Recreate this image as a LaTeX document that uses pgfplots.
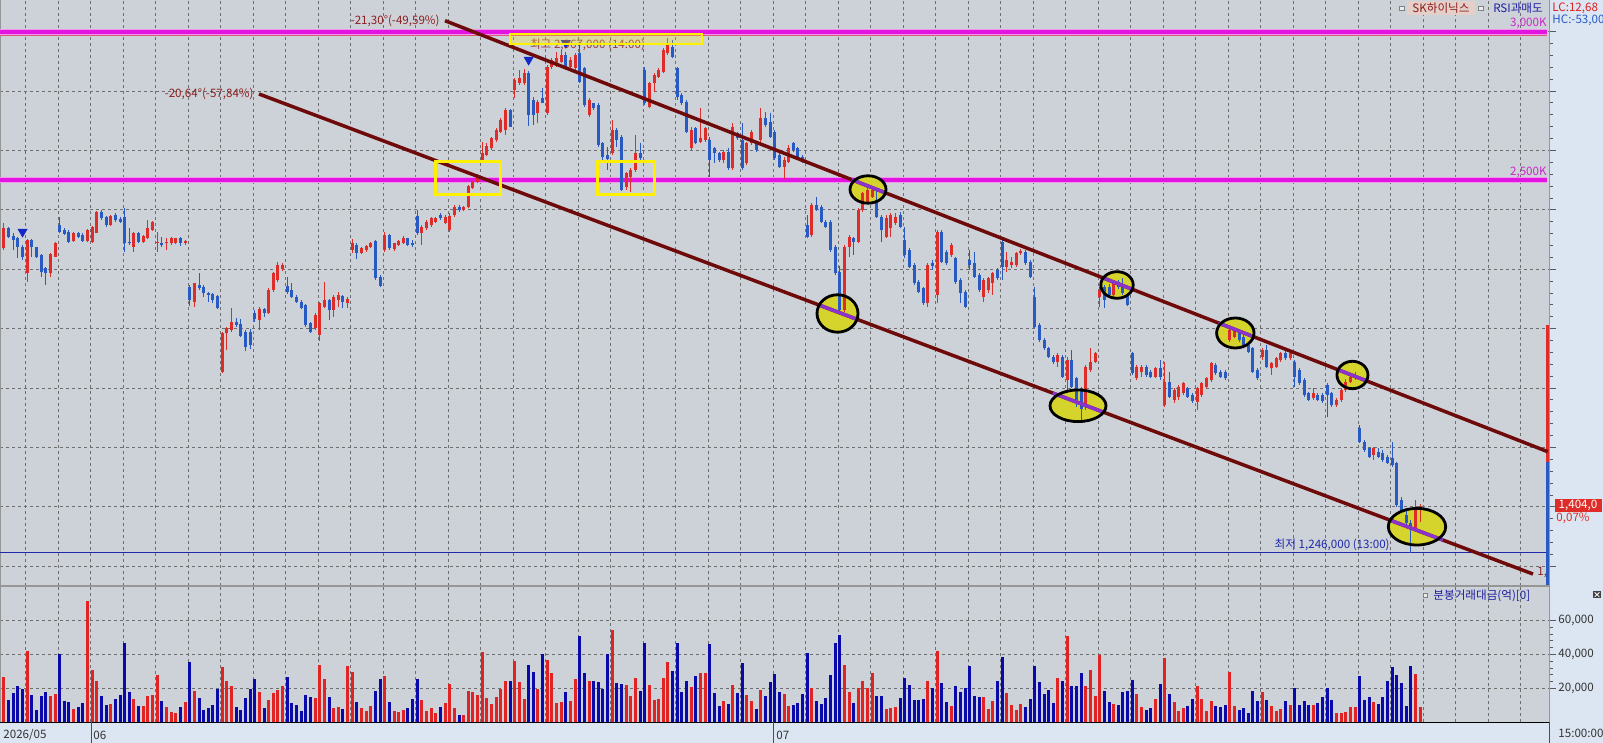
\documentclass[border=0pt]{standalone}
\usepackage{fontspec}
\setmainfont{Noto Sans CJK KR}
\usepackage{pgfplots}
\usepackage{pgfplotstable}
\pgfplotsset{compat=1.18}
\definecolor{plotbg}{RGB}{205,210,216}
\definecolor{stripbg}{RGB}{220,230,242}
\definecolor{cred}{RGB}{222,45,40}
\definecolor{cblue}{RGB}{40,90,195}
\definecolor{vred}{RGB}{225,35,35}
\definecolor{vblue}{RGB}{10,10,170}
\definecolor{chan}{RGB}{110,10,10}
\definecolor{mag}{RGB}{225,20,225}
\definecolor{magpink}{RGB}{240,150,235}
\definecolor{magtxt}{RGB}{200,40,200}
\definecolor{gridc}{RGB}{110,110,110}
\definecolor{framec}{RGB}{150,150,150}
\definecolor{tickc}{RGB}{90,90,90}
\definecolor{ellfill}{RGB}{212,212,45}
\definecolor{purp}{RGB}{140,50,205}
\definecolor{lowblue}{RGB}{30,40,170}
\definecolor{txtred}{RGB}{140,30,30}
\definecolor{yel}{RGB}{255,240,0}
\definecolor{skbg}{RGB}{228,208,200}
\definecolor{navy}{RGB}{30,30,160}
\definecolor{arrowblue}{RGB}{20,40,200}
\newcommand{\ellfillcmd}[4]{%
  \fill[ellfill] (axis cs:#1,#2) ellipse [x radius=#3pt, y radius=#4pt];}
\newcommand{\myell}[8]{%
  \draw[purp, line width=1.75pt] (axis cs:#5,#6) -- (axis cs:#7,#8);
  \draw[black, line width=1.4pt] (axis cs:#1,#2) ellipse [x radius=#3pt, y radius=#4pt];}
\pgfplotsset{candle/.style 2 args={draw=none, mark=none, mark size=0pt, forget plot,
  error bars/.cd, y dir=plus, y explicit, error mark=none,
  error bar style={draw=#1, line width=#2, solid}, /pgfplots/.cd}}
\pgfplotstableread{
i o h l c v
0 2270 2355 2265 2338 26.5
1 2338 2343 2304 2310 13.3
2 2312 2321 2265 2299 17.6
3 2305 2310 2237 2276 21.2
4 2276 2282 2231 2240 19.8
5 2187 2301 2158 2299 42.0
6 2299 2301 2243 2276 16.2
7 2274 2276 2237 2240 7.3
8 2248 2252 2175 2192 15.6
9 2203 2209 2147 2187 18.2
10 2189 2254 2175 2252 15.6
11 2243 2293 2240 2290 16.8
12 2349 2377 2321 2327 40.0
13 2332 2338 2316 2319 12.7
14 2327 2332 2287 2293 12.3
15 2296 2327 2293 2321 7.9
16 2321 2327 2304 2310 9.1
17 2315 2321 2293 2296 11.7
18 2296 2335 2293 2332 71.7
19 2293 2346 2287 2343 31.1
20 2323 2396 2321 2394 24.2
21 2394 2400 2366 2372 15.6
22 2377 2380 2344 2349 10.3
23 2349 2383 2346 2380 11.1
24 2383 2389 2360 2366 13.9
25 2368 2377 2357 2360 16.2
26 2377 2405 2259 2287 46.5
27 2293 2338 2282 2287 18.0
28 2276 2327 2259 2323 13.9
29 2323 2327 2287 2293 9.9
30 2293 2315 2287 2312 9.7
31 2304 2366 2301 2338 15.6
32 2332 2363 2330 2360 16.2
33 2287 2327 2259 2293 28.1
34 2290 2310 2276 2281 12.7
35 2287 2304 2265 2293 9.1
36 2287 2310 2282 2304 6.3
37 2290 2307 2285 2304 5.5
38 2304 2310 2278 2287 9.1
39 2290 2299 2282 2296 12.3
40 2141 2147 2077 2097 35.4
41 2091 2155 2074 2153 18.6
42 2147 2187 2130 2136 14.3
43 2141 2147 2108 2119 7.3
44 2119 2125 2091 2113 8.7
45 2116 2119 2088 2097 10.3
46 2110 2113 2065 2069 19.8
47 1855 1990 1850 1985 32.5
48 1985 2007 1928 2002 24.2
49 1996 2071 1990 2024 21.2
50 2024 2035 2007 2013 9.3
51 2016 2032 1972 1976 7.3
52 1988 1995 1925 1940 14.3
53 1990 2000 1930 1945 19.8
54 2052 2063 2023 2031 25.7
55 2029 2074 1995 2065 18.2
56 2065 2068 2040 2052 8.7
57 2052 2136 2050 2130 13.3
58 2130 2192 2125 2186 17.6
59 2164 2225 2158 2214 19.2
60 2200 2220 2195 2215 21.2
61 2145 2175 2118 2122 26.5
62 2130 2153 2102 2108 11.7
63 2108 2113 2088 2091 10.3
64 2091 2096 2065 2068 6.7
65 2080 2082 2007 2012 16.2
66 2018 2024 1984 1990 15.2
67 2001 2052 1996 2046 14.5
68 1980 2090 1960 2085 33.7
69 2074 2158 2068 2096 25.7
70 2096 2099 2029 2063 15.0
71 2063 2113 2040 2108 8.3
72 2096 2125 2074 2113 9.1
73 2110 2113 2068 2091 7.9
74 2085 2108 2068 2099 33.1
75 2265 2301 2256 2287 29.5
76 2282 2287 2234 2254 12.3
77 2256 2276 2251 2273 8.7
78 2265 2282 2259 2278 6.9
79 2274 2293 2270 2290 9.7
80 2296 2298 2164 2170 18.6
81 2175 2181 2142 2144 25.7
82 2265 2327 2259 2315 27.5
83 2315 2319 2265 2270 12.3
84 2267 2290 2263 2287 6.7
85 2282 2300 2278 2296 6.3
86 2290 2312 2285 2307 7.5
87 2304 2307 2278 2282 8.7
88 2287 2298 2276 2282 13.9
89 2380 2400 2316 2323 25.7
90 2321 2349 2282 2343 13.3
91 2338 2366 2332 2360 6.9
92 2349 2377 2343 2371 8.7
93 2360 2375 2357 2371 5.5
94 2382 2388 2366 2371 9.1
95 2357 2383 2352 2377 11.5
96 2332 2388 2327 2380 22.8
97 2383 2417 2377 2411 8.7
98 2411 2417 2394 2400 4.4
99 2400 2414 2395 2411 4.4
100 2411 2483 2408 2480 18.6
101 2472 2498 2469 2495 17.8
102 2495 2520 2490 2512 16.2
103 2565 2627 2559 2593 41.4
104 2585 2624 2580 2616 14.3
105 2607 2647 2602 2641 11.1
106 2635 2675 2630 2669 15.0
107 2663 2708 2658 2703 19.8
108 2669 2742 2652 2736 24.6
109 2736 2739 2680 2680 24.6
110 2804 2843 2776 2837 36.0
111 2826 2871 2820 2843 23.6
112 2826 2876 2820 2860 13.9
113 2860 2866 2682 2720 34.1
114 2770 2781 2686 2720 29.7
115 2725 2770 2691 2764 19.8
116 2776 2809 2759 2761 40.0
117 2725 2888 2720 2882 37.0
118 2882 2910 2876 2905 29.3
119 2888 2933 2882 2910 11.7
120 2899 2938 2893 2922 12.3
121 2922 2933 2877 2882 18.2
122 2882 2916 2877 2905 12.7
123 2877 2927 2871 2922 25.7
124 2927 2965 2826 2832 50.9
125 2877 2882 2748 2753 29.1
126 2720 2776 2714 2770 24.2
127 2759 2761 2736 2742 24.6
128 2753 2759 2613 2619 23.8
129 2624 2630 2568 2579 19.8
130 2585 2613 2534 2573 40.0
131 2591 2703 2585 2669 54.5
132 2669 2675 2613 2635 23.2
133 2647 2652 2465 2467 22.8
134 2478 2529 2467 2523 22.2
135 2512 2540 2461 2534 15.8
136 2534 2652 2529 2591 26.3
137 2591 2624 2568 2574 18.6
138 2871 2882 2753 2759 46.5
139 2748 2832 2742 2826 22.2
140 2826 2860 2798 2854 13.3
141 2849 2877 2843 2871 13.9
142 2865 2944 2860 2938 26.3
143 2927 2978 2921 2955 35.4
144 2950 2972 2910 2916 30.5
145 2877 2882 2770 2781 46.5
146 2787 2792 2753 2759 18.2
147 2764 2770 2658 2663 24.6
148 2607 2680 2602 2669 20.6
149 2675 2680 2621 2624 27.5
150 2630 2742 2624 2641 29.3
151 2636 2680 2630 2675 28.9
152 2635 2647 2512 2568 45.9
153 2607 2613 2557 2591 17.4
154 2591 2596 2562 2568 9.7
155 2568 2602 2557 2596 12.7
156 2596 2607 2534 2540 10.9
157 2540 2691 2534 2680 22.2
158 2658 2663 2635 2641 17.6
159 2635 2691 2534 2540 34.7
160 2557 2630 2551 2624 16.2
161 2624 2669 2618 2663 12.9
162 2624 2630 2596 2602 7.9
163 2635 2742 2630 2708 19.4
164 2708 2731 2680 2686 15.8
165 2697 2725 2641 2646 23.8
166 2663 2669 2568 2574 28.7
167 2585 2591 2540 2545 18.0
168 2545 2579 2503 2568 16.8
169 2562 2618 2557 2607 9.7
170 2624 2630 2596 2602 10.3
171 2607 2613 2568 2574 11.7
172 2579 2585 2559 2562 16.8
173 2349 2383 2304 2310 40.8
174 2315 2422 2310 2416 20.4
175 2416 2445 2397 2400 12.7
176 2410 2416 2355 2360 10.9
177 2360 2366 2338 2344 14.3
178 2360 2366 2259 2265 27.7
179 2276 2282 2181 2186 46.5
180 2192 2210 2052 2063 51.3
181 2063 2282 2057 2276 33.7
182 2276 2315 2243 2310 17.8
183 2305 2310 2248 2293 11.5
184 2293 2405 2287 2400 20.4
185 2400 2461 2394 2456 24.6
186 2427 2478 2422 2467 20.0
187 2445 2480 2440 2467 28.9
188 2434 2467 2374 2377 15.6
189 2377 2383 2293 2332 15.6
190 2310 2383 2304 2371 7.9
191 2338 2388 2310 2383 8.5
192 2355 2388 2349 2377 9.1
193 2383 2394 2338 2344 14.3
194 2300 2344 2237 2248 26.1
195 2265 2270 2203 2209 21.8
196 2214 2220 2147 2153 13.3
197 2158 2164 2119 2125 13.3
198 2136 2141 2080 2085 13.9
199 2085 2220 2074 2214 24.2
200 2220 2231 2198 2212 20.4
201 2113 2332 2085 2327 42.0
202 2327 2332 2220 2226 23.4
203 2259 2265 2214 2220 11.9
204 2248 2287 2243 2282 9.7
205 2237 2243 2152 2158 21.6
206 2164 2170 2085 2119 18.0
207 2125 2130 2068 2074 20.2
208 2231 2265 2198 2214 33.1
209 2220 2259 2170 2175 15.6
210 2181 2186 2125 2130 14.9
211 2108 2170 2091 2164 15.0
212 2130 2175 2119 2170 7.9
213 2153 2192 2113 2186 12.7
214 2198 2203 2164 2170 24.6
215 2293 2299 2164 2209 38.8
216 2209 2259 2192 2231 17.6
217 2214 2240 2203 2226 10.3
218 2214 2259 2209 2254 7.3
219 2254 2268 2248 2262 10.9
220 2259 2265 2214 2220 9.1
221 2226 2231 2170 2175 13.9
222 2108 2141 2001 2007 33.5
223 2012 2018 1956 1962 24.0
224 1962 1968 1928 1934 16.8
225 1934 1939 1900 1906 19.2
226 1906 1911 1881 1889 11.5
227 1889 1917 1872 1911 26.3
228 1906 1911 1833 1839 24.6
229 1827 1906 1782 1895 50.9
230 1895 1928 1799 1805 21.6
231 1833 1838 1737 1760 21.6
232 1790 1805 1693 1730 29.3
233 1737 1878 1726 1872 21.6
234 1861 1934 1855 1889 31.1
235 1889 1923 1883 1917 15.8
236 2108 2141 2074 2130 39.6
237 2141 2147 2069 2097 18.6
238 2141 2152 2110 2113 12.1
239 2113 2158 2108 2153 10.9
240 2158 2164 2135 2141 10.3
241 2147 2170 2113 2119 18.0
242 2113 2119 2075 2080 18.6
243 1917 1923 1844 1850 25.1
244 1833 1878 1827 1872 16.8
245 1855 1878 1838 1872 9.1
246 1872 1878 1838 1844 7.5
247 1855 1860 1833 1838 8.5
248 1838 1872 1833 1866 13.9
249 1866 1895 1827 1838 22.8
250 1743 1889 1735 1822 38.2
251 1822 1855 1766 1771 16.8
252 1760 1799 1749 1794 12.1
253 1771 1811 1760 1805 6.7
254 1782 1822 1777 1816 8.5
255 1799 1805 1766 1771 9.7
256 1777 1782 1749 1755 13.9
257 1754 1805 1726 1799 21.6
258 1777 1822 1771 1816 13.9
259 1805 1838 1799 1833 6.7
260 1827 1889 1822 1883 12.7
261 1878 1883 1844 1850 9.7
262 1855 1861 1833 1838 9.1
263 1855 1861 1827 1833 10.3
264 1962 2001 1956 1996 29.9
265 1973 2001 1968 1996 9.7
266 1984 1990 1956 1962 7.3
267 1973 1979 1939 1945 8.5
268 1945 1951 1917 1922 5.5
269 1934 1939 1850 1855 18.6
270 1861 1866 1827 1833 12.7
271 1906 1934 1895 1928 18.0
272 1928 1945 1866 1872 13.3
273 1866 1889 1844 1883 9.7
274 1872 1906 1866 1900 6.7
275 1895 1923 1889 1917 7.9
276 1917 1928 1895 1900 12.7
277 1900 1923 1895 1917 10.3
278 1889 1895 1805 1838 20.4
279 1861 1866 1810 1816 10.3
280 1827 1833 1771 1777 12.7
281 1782 1788 1755 1760 10.3
282 1766 1799 1760 1782 10.3
283 1777 1782 1755 1760 11.5
284 1777 1782 1749 1755 15.0
285 1810 1816 1704 1777 20.4
286 1782 1788 1737 1743 13.3
287 1743 1766 1737 1760 5.5
288 1760 1799 1754 1794 5.5
289 1794 1830 1788 1822 6.1
290 1822 1850 1816 1838 9.1
291 1833 1855 1827 1844 9.1
292 1665 1676 1614 1620 27.5
293 1620 1625 1586 1592 13.3
294 1597 1603 1564 1569 15.0
295 1575 1603 1558 1597 12.1
296 1586 1597 1564 1569 10.9
297 1580 1592 1552 1558 15.0
298 1567 1575 1545 1549 24.6
299 1563 1620 1535 1541 32.9
300 1547 1552 1401 1406 27.7
301 1423 1434 1378 1384 23.4
302 1373 1395 1333 1345 9.7
303 1345 1356 1246 1333 33.5
304 1328 1423 1322 1395 28.7
305 1395 1410 1350 1404 9.1
}\candles
\begin{document}
\begin{tikzpicture}[font=\fontsize{5.8}{6.5}\selectfont]
\useasboundingbox (0pt,0pt) rectangle (801.5pt,371.5pt);
\fill[stripbg] (0pt,0pt) rectangle (801.5pt,371.5pt);
\begin{scope}
\clip (0pt,0pt) rectangle (801.5pt,371.5pt);
% ---------------- price panel
\begin{axis}[
  at={(0pt,78.5pt)}, anchor=south west, scale only axis,
  width=774.5pt, height=293pt,
  xmin=-0.86, xmax=332.76, ymin=1133.7, ymax=3106.7,
  axis background/.style={fill=plotbg},
  axis line style={draw=framec, line width=0.5pt},
  xtick={4.67,11.67,...,327}, xticklabels={}, xmajorticks=false,
  ytick={1200,1400,...,3000}, yticklabels={}, minor y tick num=4,
  ytick pos=right, tick align=outside,
  major tick length=3.5pt, minor tick length=2pt,
  tick style={draw=tickc, line width=0.5pt},
  grid=major,
  major grid style={draw=gridc, line width=0.45pt, dash pattern=on 1.5pt off 1.5pt},
]
\draw[lowblue, line width=0.5pt] (axis cs:-0.86,1246) -- (axis cs:332.76,1246);
% horizontal magenta levels
\draw[magpink, line width=3pt] (axis cs:-0.86,3000) -- (axis cs:332.35,3000);
\draw[mag, line width=2pt] (axis cs:-0.86,3000) -- (axis cs:332.35,3000);
\draw[color={rgb,255:red,215;green,90;blue,120}, line width=0.6pt] (axis cs:-0.86,2987) -- (axis cs:332.35,2987);
\draw[magpink, line width=3pt] (axis cs:-0.86,2500) -- (axis cs:332.35,2500);
\draw[mag, line width=2pt] (axis cs:-0.86,2500) -- (axis cs:332.35,2500);
% ellipse fills (under the candles)
\ellfillcmd{186.09}{2468.7}{9}{6.85}
\ellfillcmd{179.52}{2051.2}{10.25}{9.35}
\ellfillcmd{239.72}{2147.1}{8.1}{6.65}
\ellfillcmd{231.32}{1740.4}{14}{7.9}
\ellfillcmd{265.2}{1985.5}{9.35}{7.5}
\ellfillcmd{290.43}{1844.1}{7.75}{6.85}
\ellfillcmd{304.33}{1333.3}{14.35}{9.15}
% up candles
\addplot[restrict expr to domain={\thisrow{c}-\thisrow{o}}{0:100000}, candle={cred}{0.5pt}]
  table[x=i, y=l, y error plus expr={\thisrow{h}-\thisrow{l}}] {\candles};
\addplot[restrict expr to domain={\thisrow{c}-\thisrow{o}}{0:100000}, candle={cred}{1.5pt}]
  table[x=i, y=o, y error plus expr={max(\thisrow{c}-\thisrow{o},3)}] {\candles};
% down candles
\addplot[restrict expr to domain={\thisrow{c}-\thisrow{o}}{-100000:-0.001}, candle={cblue}{0.5pt}]
  table[x=i, y=l, y error plus expr={\thisrow{h}-\thisrow{l}}] {\candles};
\addplot[restrict expr to domain={\thisrow{c}-\thisrow{o}}{-100000:-0.001}, candle={cblue}{1.5pt}]
  table[x=i, y=c, y error plus expr={max(\thisrow{o}-\thisrow{c},3)}] {\candles};
% right edge range bar
\addplot[cred, line width=1.5pt, forget plot] coordinates {(332.45,2012.5) (332.45,1551.5)};
\addplot[cblue, line width=1.5pt, forget plot] coordinates {(332.45,1551.5) (332.45,1137)};
% channel lines
\draw[chan, line width=1.75pt] (axis cs:94.98,3037) -- (axis cs:332.48,1585.9);
\draw[chan, line width=1.75pt] (axis cs:54.92,2790.2) -- (axis cs:329.31,1174);
% yellow boxes
\draw[yel, line width=1.5pt] (axis cs:93.04,2561.3) rectangle (axis cs:107.04,2450.2);
\draw[yel, line width=1.5pt] (axis cs:127.93,2561.3) rectangle (axis cs:140.21,2450.2);
% ellipse segments and borders
\myell{186.09}{2468.7}{9}{6.85}{182.6}{2501.6}{189.58}{2459.0}
\myell{179.52}{2051.2}{10.25}{9.35}{175.55}{2079.7}{183.49}{2032.9}
\myell{239.72}{2147.1}{8.1}{6.65}{236.58}{2171.8}{242.86}{2133.5}
\myell{231.32}{1740.4}{14}{7.9}{225.89}{1783.2}{236.75}{1719.2}
\myell{265.2}{1985.5}{9.35}{7.5}{261.58}{2019.1}{268.82}{1974.8}
\myell{290.43}{1844.1}{7.75}{6.85}{287.43}{1861.1}{293.43}{1824.5}
\myell{304.33}{1333.3}{14.35}{9.15}{298.77}{1353.9}{309.89}{1288.4}
% signal arrows
\addplot[only marks, mark=triangle*, mark size=2.5pt, forget plot,
  mark options={rotate=180, fill=arrowblue, draw=arrowblue}]
  coordinates {(4,2326) (113,2905) (121,2962)};
\end{axis}
% ---------------- volume panel
\begin{axis}[
  at={(0pt,10.25pt)}, anchor=south west, scale only axis,
  width=774.5pt, height=67.75pt,
  xmin=-0.86, xmax=332.76, ymin=0, ymax=79.7,
  axis background/.style={fill=plotbg},
  axis line style={draw=framec, line width=0.5pt},
  xtick={4.67,11.67,...,327}, xticklabels={}, xmajorticks=false,
  ytick={20,40,60}, yticklabels={}, minor y tick num=4,
  ytick pos=right, tick align=outside,
  major tick length=3.5pt, minor tick length=2pt,
  tick style={draw=tickc, line width=0.5pt},
  grid=major,
  major grid style={draw=gridc, line width=0.45pt, dash pattern=on 1.5pt off 1.5pt},
]
\addplot[ycomb, draw=vred, line width=1.5pt, mark=none,
  restrict expr to domain={\thisrow{c}-\thisrow{o}}{0:100000}]
  table[x=i, y=v] {\candles};
\addplot[ycomb, draw=vblue, line width=1.5pt, mark=none,
  restrict expr to domain={\thisrow{c}-\thisrow{o}}{-100000:-0.001}]
  table[x=i, y=v] {\candles};
\draw[black, line width=0.8pt] (rel axis cs:0,0) -- (rel axis cs:1,0);
\end{axis}
% ---------------- texts
\node[anchor=east, text=txtred, inner sep=0pt] at (220pt,361.15pt) {-21,30°(-49,59\%)};
\node[anchor=east, text=txtred, inner sep=0pt] at (127pt,324.5pt) {-20,64°(-57,84\%)};
\node[text=txtred, opacity=0.85, inner sep=0pt] at (293.75pt,349pt) {최고 2,967,000 (14:00)};
\draw[yel, line width=1.2pt, fill=yel, fill opacity=0.25] (255pt,354.5pt) rectangle (351pt,349.6pt);
\node[anchor=east, text=magtxt, inner sep=0pt] at (773.5pt,360pt) {3,000K};
\node[anchor=east, text=magtxt, inner sep=0pt] at (773.5pt,285.5pt) {2,500K};
\fill[skbg] (703.5pt,364pt) rectangle (737.5pt,370.8pt);
\draw[gray, fill=white!85!gray, line width=0.3pt] (699.7pt,366.1pt) rectangle (701.9pt,368.3pt);
\draw[gray, fill=white!85!gray, line width=0.3pt] (739.3pt,366.1pt) rectangle (741.5pt,368.3pt);
\node[text=txtred, inner sep=0pt] at (720.5pt,367.3pt) {SK하이닉스};
\node[text=navy, inner sep=0pt] at (759pt,367.3pt) {RSI과매도};
\node[anchor=west, text={rgb,255:red,220;green,30;blue,30}, inner sep=0pt] at (776pt,367.5pt) {LC:12,68};
\node[anchor=west, text={rgb,255:red,40;green,90;blue,200}, inner sep=0pt] at (776pt,361.2pt) {HC:-53,00};
\node[anchor=east, text=lowblue, inner sep=0pt] at (695pt,99pt) {최저 1,246,000 (13:00)};
\node[anchor=west, text=txtred, inner sep=0pt] at (768.5pt,85.5pt) {1,};
\fill[cred] (777.5pt,115.3pt) rectangle (800.8pt,122.2pt);
\node[text=white, inner sep=0pt] at (789pt,118.75pt) {1,404,0};
\node[text=cred, inner sep=0pt] at (786.5pt,112.5pt) {0,07\%};
\draw[gray, fill=white!85!gray, line width=0.3pt] (711.5pt,73pt) rectangle (713.5pt,75pt);
\node[anchor=west, text=navy, inner sep=0pt] at (716.5pt,73.8pt) {분봉거래대금(억)[0]};
\fill[gray!50!black] (796.5pt,72.3pt) rectangle (800.5pt,76pt);
\draw[white, line width=0.4pt] (797.3pt,73pt) -- (799.7pt,75.3pt) (797.3pt,75.3pt) -- (799.7pt,73pt);
\node[anchor=west, text=black!80, inner sep=0pt] at (779pt,61.15pt) {60,000};
\node[anchor=west, text=black!80, inner sep=0pt] at (779pt,44.25pt) {40,000};
\node[anchor=west, text=black!80, inner sep=0pt] at (779pt,27.25pt) {20,000};
\node[anchor=west, text=black!80, inner sep=0pt] at (1.5pt,4pt) {2026/05};
\node[anchor=west, text=black!80, inner sep=0pt] at (46.5pt,4pt) {06};
\node[anchor=west, text=black!80, inner sep=0pt] at (388pt,4pt) {07};
\node[anchor=west, text=black!80, inner sep=0pt] at (779pt,5pt) {15:00:00};
\draw[gray!60!black, line width=0.4pt] (45.5pt,0pt) -- (45.5pt,10.25pt);
\draw[gray!60!black, line width=0.4pt] (386.75pt,0pt) -- (386.75pt,10.25pt);
\draw[gray!60!black, line width=0.4pt] (774.75pt,0pt) -- (774.75pt,10.25pt);
\end{scope}
\end{tikzpicture}
\end{document}
